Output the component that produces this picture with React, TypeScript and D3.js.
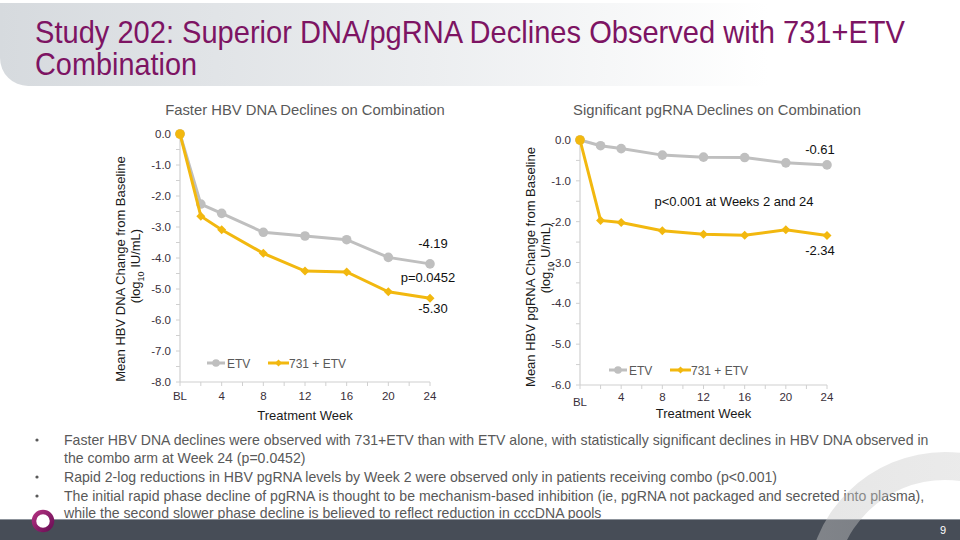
import React from "react";
import * as d3 from "d3";

const weeks = [0, 2, 4, 8, 12, 16, 20, 24];
const xTickWeeks = [0, 4, 8, 12, 16, 20, 24];
const xTickLabels = ["BL", "4", "8", "12", "16", "20", "24"];
const dnaEtv = [0, -2.26, -2.56, -3.17, -3.29, -3.41, -3.98, -4.19];
const dnaCombo = [0, -2.65, -3.09, -3.85, -4.42, -4.45, -5.09, -5.3];
const rnaEtv = [0, -0.14, -0.21, -0.37, -0.42, -0.43, -0.56, -0.61];
const rnaCombo = [0, -1.97, -2.02, -2.22, -2.31, -2.33, -2.2, -2.34];
const dnaYTicks = [0, -1, -2, -3, -4, -5, -6, -7, -8];
const rnaYTicks = [0, -1, -2, -3, -4, -5, -6];
const seriesNames = ["ETV", "731 + ETV"];

const bullets = [
  [
    "Faster HBV DNA declines were observed with 731+ETV than with ETV alone, with statistically significant declines in HBV DNA observed in",
    "the combo arm at Week 24 (p=0.0452)",
  ],
  ["Rapid 2-log reductions in HBV pgRNA levels by Week 2 were observed only in patients receiving combo (p<0.001)"],
  [
    "The initial rapid phase decline of pgRNA is thought to be mechanism-based inhibition (ie, pgRNA not packaged and secreted into plasma),",
    "while the second slower phase decline is believed to reflect reduction in cccDNA pools",
  ],
];

const FONT = "'Liberation Sans', Arial, sans-serif";
const GREY = "#BFBFBF";
const GOLD = "#F2B80F";
const TICKC = "#3a2f3a";
const TITLE_SX = 0.86;

function Diamond({ x, y, s = 4.5 }: { x: number; y: number; s?: number }) {
  return (
    <path
      d={`M${x},${y - s}L${x + s},${y}L${x},${y + s}L${x - s},${y}Z`}
      fill={GOLD}
    />
  );
}

type PanelProps = {
  x0: number;
  x1: number;
  y0: number;
  y1: number;
  yMin: number;
  yTicks: number[];
  etv: number[];
  combo: number[];
  title: string;
  titleX: number;
  yTitle: string;
  yUnit: string;
  yTitleX: number;
  yTitleY: number;
  yUnitY: number;
  legendY: number;
  legendX: number;
  blDy: number;
  xLabelY: number;
  xTitleY: number;
  children?: React.ReactNode;
};

function Panel(p: PanelProps) {
  const x = d3.scaleLinear().domain([0, 24]).range([p.x0, p.x1]);
  const y = d3.scaleLinear().domain([p.yMin, 0]).range([p.y1, p.y0]);
  const line = d3
    .line<number>()
    .x((_, i) => x(weeks[i]))
    .y((d) => y(d));
  const minor = d3.range(p.yMin, 0.001, 0.5);
  const xMinor = d3.range(0, 24.001, 2);
  return (
    <g fontFamily={FONT}>
      <text x={p.titleX} y={115} textAnchor="middle" fontSize={14.8} fill="#595959">
        {p.title}
      </text>
      <line x1={p.x0} x2={p.x0} y1={p.y0} y2={p.y1} stroke="#D0D0D0" strokeWidth={1.2} />
      <line x1={p.x0} x2={p.x1} y1={p.y1} y2={p.y1} stroke="#D0D0D0" strokeWidth={1.2} />
      {minor.map((v) => (
        <line key={"ym" + v} x1={p.x0 - 4} x2={p.x0} y1={y(v)} y2={y(v)} stroke="#D0D0D0" />
      ))}
      {xMinor.map((v) => (
        <line key={"xm" + v} x1={x(v)} x2={x(v)} y1={p.y1} y2={p.y1 + 4} stroke="#D0D0D0" />
      ))}
      {p.yTicks.map((v) => (
        <text
          key={"yl" + v}
          x={p.x0 - 9}
          y={y(v) + 4}
          textAnchor="end"
          fontSize={11.5}
          fill={TICKC}
        >
          {v.toFixed(1)}
        </text>
      ))}
      {xTickWeeks.map((w, i) => (
        <text
          key={"xl" + w}
          x={x(w)}
          y={p.xLabelY + (i === 0 ? p.blDy : 0)}
          textAnchor="middle"
          fontSize={11.5}
          fill={TICKC}
        >
          {xTickLabels[i]}
        </text>
      ))}
      <text x={(p.x0 + p.x1) / 2} y={p.xTitleY} textAnchor="middle" fontSize={13} fill="#1a1a1a">
        Treatment Week
      </text>
      <text
        transform={`translate(${p.yTitleX},${p.yTitleY}) rotate(-90)`}
        textAnchor="middle"
        fontSize={13}
        fill="#1a1a1a"
      >
        {p.yTitle}
      </text>
      <text
        transform={`translate(${p.yTitleX + 15},${p.yUnitY}) rotate(-90)`}
        textAnchor="middle"
        fontSize={13}
        fill="#1a1a1a"
      >
        (log
        <tspan fontSize={9} dy={4}>
          10
        </tspan>
        <tspan dy={-4}>{" " + p.yUnit}</tspan>
      </text>
      <path d={line(p.etv) || ""} fill="none" stroke={GREY} strokeWidth={3} />
      {p.etv.map((v, i) => (
        <circle key={"e" + i} cx={x(weeks[i])} cy={y(v)} r={4.8} fill={GREY} />
      ))}
      <path d={line(p.combo) || ""} fill="none" stroke={GOLD} strokeWidth={3} />
      {p.combo.map((v, i) =>
        i === 0 ? (
          <circle key={"c" + i} cx={x(weeks[i])} cy={y(v)} r={4.8} fill={GOLD} />
        ) : (
          <Diamond key={"c" + i} x={x(weeks[i])} y={y(v)} />
        )
      )}
      <line x1={p.legendX} x2={p.legendX + 18} y1={p.legendY} y2={p.legendY} stroke={GREY} strokeWidth={3} />
      <circle cx={p.legendX + 9} cy={p.legendY} r={3.8} fill={GREY} />
      <text x={p.legendX + 20} y={p.legendY + 4.5} fontSize={12} fill="#595959">
        {seriesNames[0]}
      </text>
      <line
        x1={p.legendX + 61}
        x2={p.legendX + 82}
        y1={p.legendY}
        y2={p.legendY}
        stroke={GOLD}
        strokeWidth={3}
      />
      <Diamond x={p.legendX + 71.5} y={p.legendY} s={3.5} />
      <text x={p.legendX + 82} y={p.legendY + 4.5} fontSize={12} fill="#595959">
        {seriesNames[1]}
      </text>
      {p.children}
    </g>
  );
}

export default function App() {
  return (
    <svg
      width={960}
      height={540}
      viewBox="0 0 960 540"
      style={{ position: "absolute", left: 0, top: 0, background: "#fff" }}
    >
      <defs>
        <linearGradient id="hdr" x1="0" x2="1" y1="0" y2="0">
          <stop offset="0" stopColor="#d6dade" />
          <stop offset="0.45" stopColor="#eceef0" />
          <stop offset="0.8" stopColor="#ffffff" />
        </linearGradient>
        <linearGradient id="logo" x1="0" x2="1" y1="0" y2="1">
          <stop offset="0" stopColor="#b0307f" />
          <stop offset="1" stopColor="#6b0f56" />
        </linearGradient>
        <linearGradient id="ring" x1="0" x2="1" y1="0" y2="0">
          <stop offset="0" stopColor="#c8c8c8" stopOpacity={0.45} />
          <stop offset="0.7" stopColor="#c8c8c8" stopOpacity={0.35} />
          <stop offset="1" stopColor="#c8c8c8" stopOpacity={0.1} />
        </linearGradient>
      </defs>
      <rect width={960} height={540} fill="#fff" />
      <path d="M0,3H960V86H28A28,28 0 0 1 0,58Z" fill="url(#hdr)" />
      <g fontFamily={FONT} fill="#7d1463" fontSize={31}>
        <g transform={`translate(35,43) scale(${TITLE_SX},1)`}>
          <text x={0} y={0} textLength={870 / TITLE_SX} lengthAdjust="spacingAndGlyphs">
            Study 202: Superior DNA/pgRNA Declines Observed with 731+ETV
          </text>
        </g>
        <g transform={`translate(35,75) scale(${TITLE_SX},1)`}>
          <text x={0} y={0} textLength={162 / TITLE_SX} lengthAdjust="spacingAndGlyphs">
            Combination
          </text>
        </g>
      </g>

      <Panel
        x0={180}
        x1={430}
        y0={134}
        y1={382}
        yMin={-8}
        yTicks={dnaYTicks}
        etv={dnaEtv}
        combo={dnaCombo}
        title="Faster HBV DNA Declines on Combination"
        titleX={305}
        yTitle="Mean HBV DNA Change from Baseline"
        yUnit="IU/mL)"
        yTitleX={125}
        yTitleY={269}
        yUnitY={266}
        legendY={363}
        legendX={207}
        blDy={0}
        xLabelY={400}
        xTitleY={420}
      >
        <g fontFamily={FONT} fontSize={13} fill="#111" textAnchor="middle">
          <text x={433} y={248}>-4.19</text>
          <text x={428} y={282}>p=0.0452</text>
          <text x={433} y={313}>-5.30</text>
        </g>
      </Panel>

      <Panel
        x0={580}
        x1={827}
        y0={140}
        y1={385}
        yMin={-6}
        yTicks={rnaYTicks}
        etv={rnaEtv}
        combo={rnaCombo}
        title="Significant pgRNA Declines on Combination"
        titleX={717}
        yTitle="Mean HBV pgRNA Change from Baseline"
        yUnit="U/mL)"
        yTitleX={535}
        yTitleY={267}
        yUnitY={258}
        legendY={370}
        legendX={609}
        blDy={5}
        xLabelY={401}
        xTitleY={418}
      >
        <g fontFamily={FONT} fontSize={13} fill="#111" textAnchor="middle">
          <text x={820} y={154}>-0.61</text>
          <text x={734} y={206}>p&lt;0.001 at Weeks 2 and 24</text>
          <text x={820} y={255}>-2.34</text>
        </g>
      </Panel>

      <g fontFamily={FONT} fontSize={14.1} fill="#595959">
        {(() => {
          const ys = [[445, 463], [482], [501, 518]];
          return bullets.map((b, bi) => (
            <g key={bi}>
              <circle cx={37} cy={ys[bi][0] - 5} r={1.6} fill="#595959" />
              {b.map((t, li) => (
                <text key={li} x={64} y={ys[bi][li]}>
                  {t}
                </text>
              ))}
            </g>
          ));
        })()}
      </g>

      <rect x={0} y={519} width={960} height={21} fill="#474d57" />
      <line x1={0} x2={960} y1={519.5} y2={519.5} stroke="#8d939b" strokeWidth={1} />
      <path
        d={(() => {
          const arc = d3.arc()({
            innerRadius: 110,
            outerRadius: 138,
            startAngle: -Math.PI / 2,
            endAngle: Math.PI / 2,
          } as any);
          return arc || "";
        })()}
        transform="translate(945,590)"
        fill="url(#ring)"
      />
      <circle cx={43} cy={521} r={10.5} fill="#fff" />
      <circle cx={43} cy={521} r={9} fill="none" stroke="url(#logo)" strokeWidth={4.5} />
      <text x={943} y={534} fontFamily={FONT} fontSize={11} fill="#fff" textAnchor="middle">
        9
      </text>
    </svg>
  );
}
